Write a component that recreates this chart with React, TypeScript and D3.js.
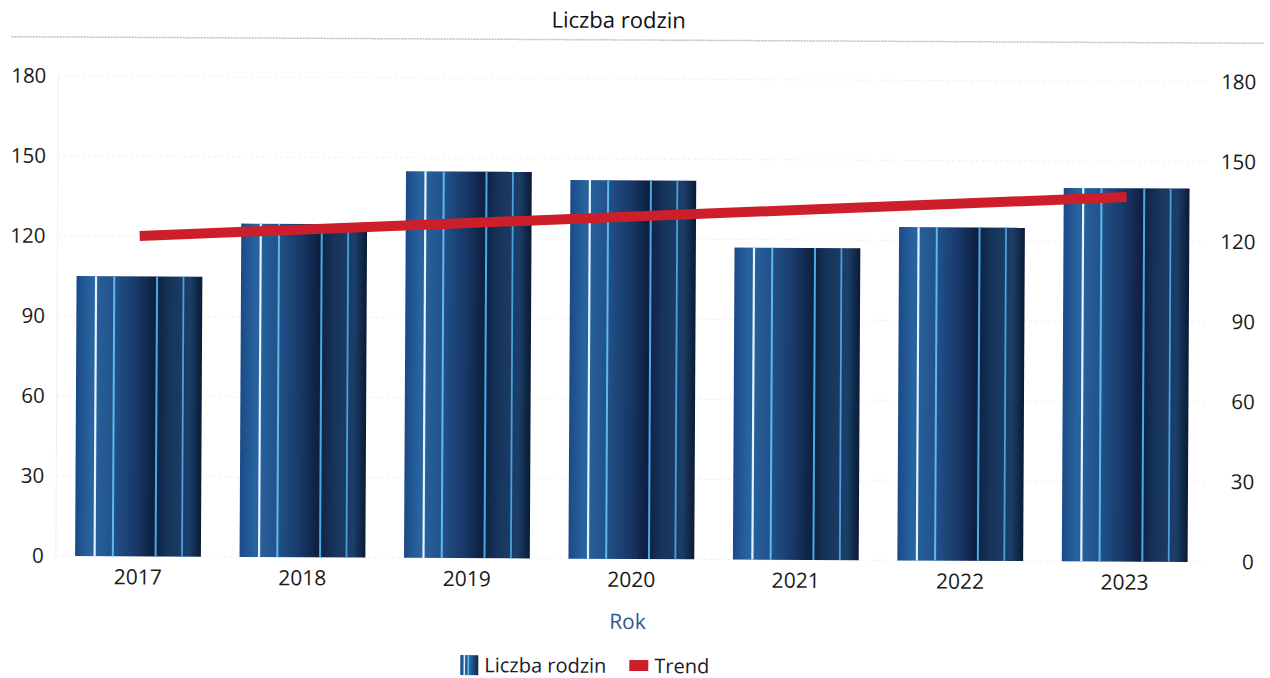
import React from "react";
import * as d3 from "d3";

const years = ["2017", "2018", "2019", "2020", "2021", "2022", "2023"];
const families = [105, 125, 145, 142, 117, 125, 140];
const yTicks = [0, 30, 60, 90, 120, 150, 180];
const titleText = "Liczba rodzin";
const xAxisTitle = "Rok";
const legendBar = "Liczba rodzin";
const legendTrend = "Trend";

const W = 1270;
const H = 678;
const FONT = "'Open Sans', 'DejaVu Sans', sans-serif";

export default function App() {
  const x = d3.scaleBand<string>().domain(years).range([57, 1208]).paddingInner(0.235).paddingOuter(0.117);
  const y = d3.scaleLinear().domain([0, 180]).range([559, 79]);

  // linear trend (least squares) over the bar values
  const idx = families.map((_, i) => i);
  const mx = d3.mean(idx) as number;
  const my = d3.mean(families) as number;
  const slope =
    d3.sum(idx, (i) => (i - mx) * (families[i] - my)) / d3.sum(idx, (i) => (i - mx) * (i - mx));
  const trend = idx.map((i) => my + slope * (i - mx));
  const line = d3
    .line<number>()
    .x((_, i) => (x(years[i]) as number) + x.bandwidth() / 2)
    .y((d) => y(d));

  const bw = x.bandwidth();
  const stripes = [
    { p: 0.155, c: "#e4f2ff", w: 2.2 },
    { p: 0.3, c: "#5cb8ee", w: 2 },
    { p: 0.64, c: "#4aa8e6", w: 2 },
    { p: 0.85, c: "#4aa0dc", w: 1.8 },
  ];

  return (
    <svg width={W} height={H} style={{ position: "absolute", left: 0, top: 0, background: "#fff" }}>
      <defs>
        <linearGradient id="barGrad" x1="0" x2="1" y1="0" y2="0">
          <stop offset="0" stopColor="#1b4a86" />
          <stop offset="0.12" stopColor="#2864a0" />
          <stop offset="0.3" stopColor="#225289" />
          <stop offset="0.48" stopColor="#183868" />
          <stop offset="0.62" stopColor="#0d2040" />
          <stop offset="0.75" stopColor="#17355c" />
          <stop offset="0.9" stopColor="#1b3f6a" />
          <stop offset="1" stopColor="#0a1a34" />
        </linearGradient>
        <linearGradient id="legGrad" x1="0" x2="1" y1="0" y2="0">
          <stop offset="0" stopColor="#1d4f8f" />
          <stop offset="0.5" stopColor="#2a69a6" />
          <stop offset="1" stopColor="#0f2447" />
        </linearGradient>
      </defs>
      <g transform="rotate(0.3, 635, 339)">
        <text x={617} y={28} textAnchor="middle" fontFamily={FONT} fontSize={22} fill="#111">
          {titleText}
        </text>
        <line x1={10} x2={1262} y1={40} y2={40} stroke="#b8bcc4" strokeWidth={1.5} strokeDasharray="2 1" />

        {/* gridlines */}
        {yTicks.map((t) => (
          <line key={"g" + t} x1={57} x2={1208} y1={y(t)} y2={y(t)} stroke="#eef0f3" strokeWidth={1} strokeDasharray="3 3" />
        ))}
        <line x1={57} x2={57} y1={y(180)} y2={y(0)} stroke="#eef0f3" strokeWidth={1} />

        {/* left axis labels */}
        {yTicks.map((t) => (
          <text key={"l" + t} x={45} y={y(t) + 7} textAnchor="end" fontFamily={FONT} fontSize={20.5} fill="#1a1a1a">
            {t}
          </text>
        ))}
        {/* right axis labels */}
        {yTicks.map((t) => (
          <text key={"r" + t} x={1255} y={y(t) + 7} textAnchor="end" fontFamily={FONT} fontSize={20.5} fill="#1a1a1a">
            {t}
          </text>
        ))}

        {/* bars */}
        {families.map((v, i) => {
          const bx = x(years[i]) as number;
          const by = y(v);
          const bh = y(0) - by;
          return (
            <g key={years[i]}>
              <rect x={bx} y={by} width={bw} height={bh} fill="url(#barGrad)" />
              {stripes.map((s, k) => (
                <line key={k} x1={bx + bw * s.p} x2={bx + bw * s.p} y1={by} y2={by + bh} stroke={s.c} strokeWidth={s.w} />
              ))}
            </g>
          );
        })}

        {/* trend */}
        <path d={line(trend) as string} fill="none" stroke="#cc1f2b" strokeWidth={10} />

        {/* x labels */}
        {years.map((yr) => (
          <text key={"x" + yr} x={(x(yr) as number) + bw / 2} y={587} textAnchor="middle" fontFamily={FONT} fontSize={21} fill="#1a1a1a">
            {yr}
          </text>
        ))}
        <text x={629} y={629} textAnchor="middle" fontFamily={FONT} fontSize={21} fill="#2f5a8f">
          {xAxisTitle}
        </text>

        {/* legend */}
        <g>
          <rect x={462} y={656} width={18} height={20} fill="url(#legGrad)" />
          <line x1={466} x2={466} y1={656} y2={676} stroke="#e4f2ff" strokeWidth={1.5} />
          <line x1={470} x2={470} y1={656} y2={676} stroke="#5cb8ee" strokeWidth={1.5} />
          <text x={486} y={673} fontFamily={FONT} fontSize={20} fill="#1a1a2e">
            {legendBar}
          </text>
          <rect x={631} y={660} width={19} height={11} fill="#cc1f2b" />
          <text x={656} y={673} fontFamily={FONT} fontSize={20} fill="#1a1a2e">
            {legendTrend}
          </text>
        </g>
      </g>
    </svg>
  );
}
